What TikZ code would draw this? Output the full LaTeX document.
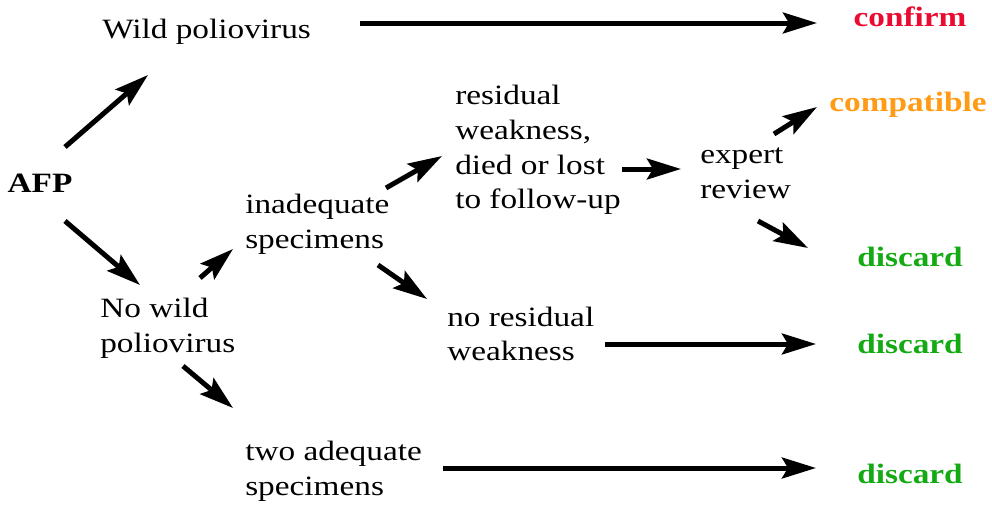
\documentclass[tikz,border=0pt]{standalone}
\usepackage{fontspec}
\setmainfont[FakeStretch=1.19]{Liberation Serif}
\usetikzlibrary{arrows.meta}
\definecolor{confirmred}{RGB}{235,10,50}
\definecolor{compatorange}{RGB}{255,155,20}
\definecolor{discardgreen}{RGB}{20,170,20}

\begin{document}
\begin{tikzpicture}[x=0.25mm,y=-0.25mm, %pixel units, y downwards
  lbl/.style={anchor=west,align=left,inner sep=0pt,font=\fontsize{19.9pt}{24.7pt}\selectfont},
  res/.style={inner sep=0pt,font=\fontsize{19.9pt}{24.7pt}\selectfont\bfseries},
  arr/.style={line width=1.25mm,-{Stealth[length=8.5mm,width=5.2mm,inset=1.5mm]}}]
\useasboundingbox (0,0) rectangle (992,504);

\node[res] (afp) at (40,183) {AFP};
\node[lbl] (wild) at (102,32) {Wild poliovirus};
\node[lbl] (nowild) at (100,328) {No wild\\poliovirus};
\node[lbl] (inad) at (245,224) {inadequate\\specimens};
\node[lbl] (two) at (245,471) {two adequate\\specimens};
\node[lbl] (resid) at (455,150) {residual\\weakness,\\died or lost\\to follow-up};
\node[lbl] (nores) at (447,334) {no residual\\weakness};
\node[lbl] (expert) at (700,173) {expert\\review};

\node[res,text=confirmred] (confirm) at (910,17) {confirm};
\node[res,text=compatorange] (compat) at (908,105) {compatible};
\node[res,text=discardgreen] (disca) at (910,257) {discard};
\node[res,text=discardgreen] (discb) at (910,344) {discard};
\node[res,text=discardgreen] (discc) at (910,474) {discard};

\draw[arr] ([shift={(25,-36)}]afp.center) -- ([shift={(46,43)}]wild.west);
\draw[arr] ([shift={(25,38)}]afp.center) -- ([shift={(40,-43)}]nowild.west);
\draw[arr] ([shift={(258,-9)}]wild.west) -- ([shift={(-93,6)}]confirm.center);
\draw[arr] ([shift={(100,-50)}]nowild.west) -- ([shift={(-12,25)}]inad.west);
\draw[arr] ([shift={(83,38)}]nowild.west) -- ([shift={(-12,-63)}]two.west);
\draw[arr] ([shift={(141,-36)}]inad.west) -- ([shift={(-13,6)}]resid.west);
\draw[arr] ([shift={(133,41)}]inad.west) -- ([shift={(-20,-35)}]nores.west);
\draw[arr] ([shift={(167,19)}]resid.west) -- ([shift={(-19,-4)}]expert.west);
\draw[arr] ([shift={(74,-39)}]expert.west) -- ([shift={(-91,2)}]compat.center);
\draw[arr] ([shift={(58,48)}]expert.west) -- ([shift={(-102,-9)}]disca.center);
\draw[arr] ([shift={(158,10)}]nores.west) -- ([shift={(-94,0)}]discb.center);
\draw[arr] ([shift={(198,-3)}]two.west) -- ([shift={(-94,-6)}]discc.center);
\end{tikzpicture}
\end{document}
